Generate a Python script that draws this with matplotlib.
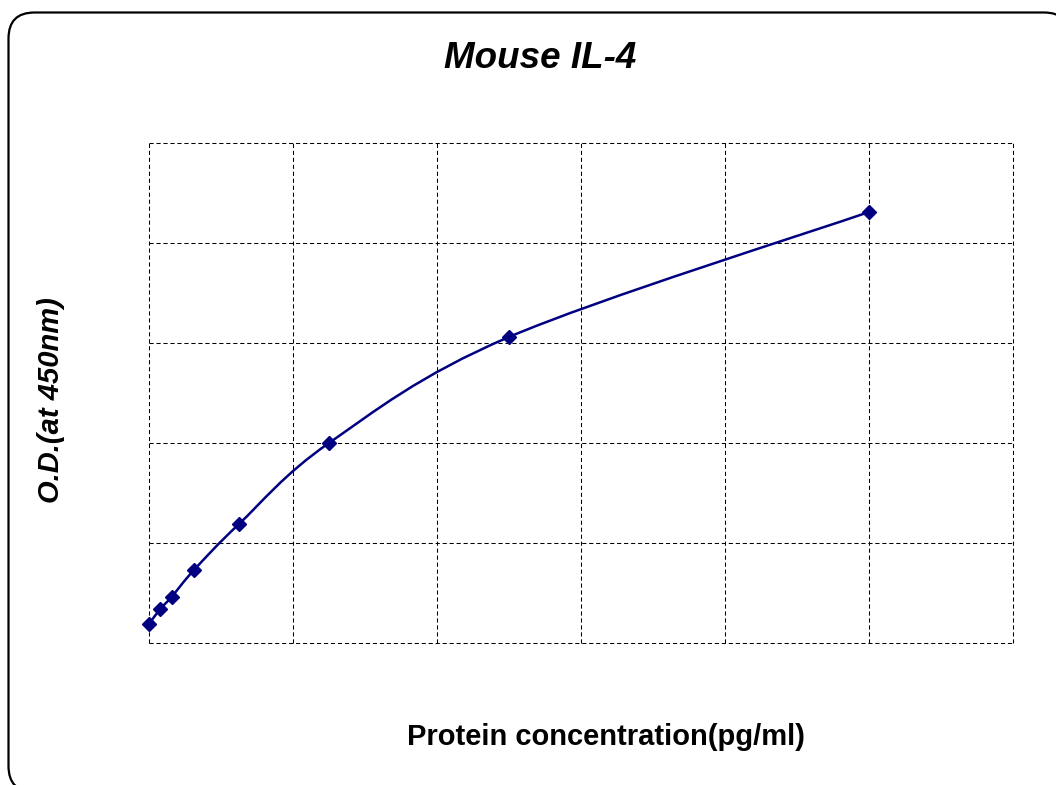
"""
Mouse IL-4 ELISA standard curve, redrawn with matplotlib
"""

import numpy as np
import matplotlib
matplotlib.use("Agg")
import matplotlib.pyplot as plt
from matplotlib.path import Path
from matplotlib.patches import PathPatch
from matplotlib.transforms import IdentityTransform

plt.rcParams['font.family'] = ['Liberation Sans', 'DejaVu Sans']

# Standard curve data
concentration = [0, 15.6, 31.25, 62.5, 125, 250, 500, 1000]   # pg/ml
od_450 = [0.095, 0.17, 0.23, 0.365, 0.595, 1.0, 1.53, 2.155]  # O.D. at 450nm

x_grid = [0, 200, 400, 600, 800, 1000, 1200]
y_grid = [0, 0.5, 1.0, 1.5, 2.0, 2.5]

W, H = 1056, 785
fig = plt.figure(figsize=(W / 100, H / 100), dpi=100)
ax = fig.add_axes([149 / W, 1 - 643 / H, (1013 - 149) / W, (643 - 143) / H])

ax.set_xlim(x_grid[0], x_grid[-1])
ax.set_ylim(y_grid[0], y_grid[-1])
ax.set_xticks(x_grid)
ax.set_yticks(y_grid)
ax.tick_params(length=0, labelbottom=False, labelleft=False)
for s in ax.spines.values():
    s.set_visible(False)
ax.grid(True, color='black', linewidth=0.75, linestyle=(0, (4, 2.7)))
for gl in ax.get_xgridlines() + ax.get_ygridlines():
    gl.set_clip_on(False)

# smooth curve through the points (Catmull-Rom as cubic Bezier segments)
pts = np.column_stack([concentration, od_450])
ext = np.vstack([pts[0], pts, pts[-1]])
verts = [pts[0]]
codes = [Path.MOVETO]
for i in range(len(pts) - 1):
    p0, p1, p2, p3 = ext[i], ext[i + 1], ext[i + 2], ext[i + 3]
    c1 = p1 + (p2 - p0) / 6
    c2 = p2 - (p3 - p1) / 6
    verts += [c1, c2, p2]
    codes += [Path.CURVE4] * 3
curve = PathPatch(Path(verts, codes), facecolor='none', edgecolor='#000080',
                  linewidth=1.8, zorder=3)
ax.add_patch(curve)

ax.plot(concentration, od_450, linestyle='none', marker='D', markersize=7.5,
        color='#000080', zorder=4, clip_on=False)

# texts
fig.text(540 / W, 1 - 68 / H, 'Mouse IL-4', ha='center', va='baseline',
         fontsize=26.5, fontweight='bold', fontstyle='italic')
fig.text(606 / W, 1 - 745 / H, 'Protein concentration(pg/ml)', ha='center',
         va='baseline', fontsize=21, fontweight='bold')
fig.text(59 / W, 1 - 400 / H, 'O.D.(at 450nm)', ha='center', va='baseline',
         rotation=90, rotation_mode='anchor', fontsize=21,
         fontweight='bold', fontstyle='italic')

# rounded frame around the chart (pixel coordinates, runs off right/bottom)
# filled white and drawn first so agg does not clip the curved corners
x0, x1 = 8.5, 1070
y0, y1 = H - 792, H - 12.5
r = 26
frame_verts = [(x0 + r, y1), (x1 - r, y1), (x1, y1), (x1, y1 - r),
               (x1, y0 + r), (x1, y0), (x1 - r, y0),
               (x0 + r, y0), (x0, y0), (x0, y0 + r),
               (x0, y1 - r), (x0, y1), (x0 + r, y1)]
frame_codes = [Path.MOVETO, Path.LINETO, Path.CURVE3, Path.CURVE3,
               Path.LINETO, Path.CURVE3, Path.CURVE3,
               Path.LINETO, Path.CURVE3, Path.CURVE3,
               Path.LINETO, Path.CURVE3, Path.CURVE3]
frame = PathPatch(Path(frame_verts, frame_codes), transform=IdentityTransform(),
                  facecolor='white', edgecolor='black', linewidth=1.6,
                  zorder=-1)
fig.patches.append(frame)

fig.savefig('out.png', dpi=100)
